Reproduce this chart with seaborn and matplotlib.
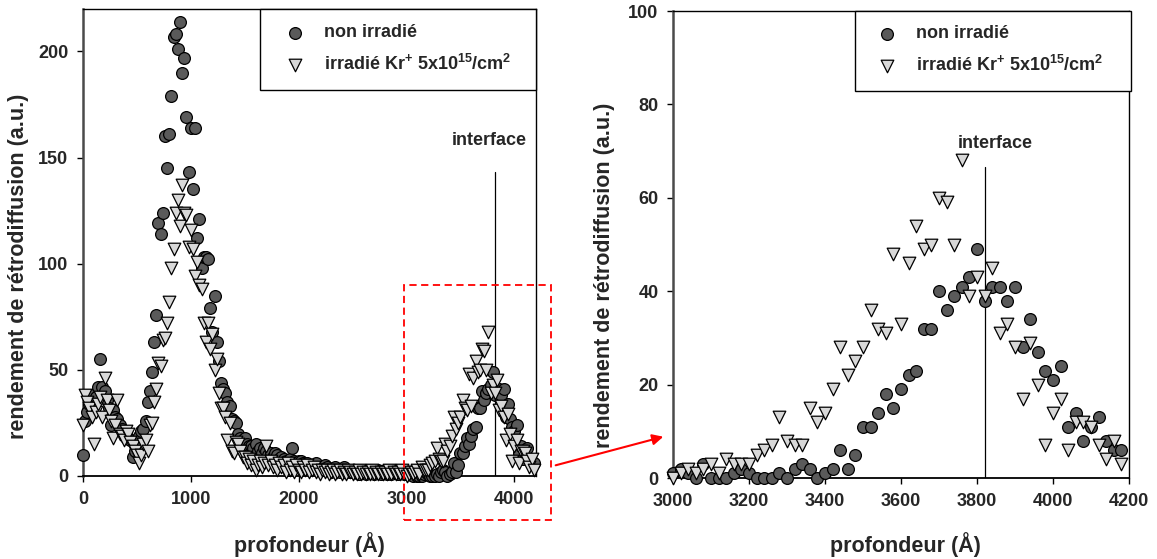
import matplotlib
import matplotlib.pyplot as plt
import pandas as pd
import seaborn as sns
from matplotlib.patches import Rectangle

matplotlib.use('agg')

# depth grid (Å)
depth = [
    0, 20, 40, 60, 80, 100, 120, 140, 160, 180,
    200, 220, 240, 260, 280, 300, 320, 340, 360, 380,
    400, 420, 440, 460, 480, 500, 520, 540, 560, 580,
    600, 620, 640, 660, 680, 700, 720, 740, 760, 780,
    800, 820, 840, 860, 880, 900, 920, 940, 960, 980,
    1000, 1020, 1040, 1060, 1080, 1100, 1120, 1140, 1160, 1180,
    1200, 1220, 1240, 1260, 1280, 1300, 1320, 1340, 1360, 1380,
    1400, 1420, 1440, 1460, 1480, 1500, 1520, 1540, 1560, 1580,
    1600, 1620, 1640, 1660, 1680, 1700, 1720, 1740, 1760, 1780,
    1800, 1820, 1840, 1860, 1880, 1900, 1920, 1940, 1960, 1980,
    2000, 2020, 2040, 2060, 2080, 2100, 2120, 2140, 2160, 2180,
    2200, 2220, 2240, 2260, 2280, 2300, 2320, 2340, 2360, 2380,
    2400, 2420, 2440, 2460, 2480, 2500, 2520, 2540, 2560, 2580,
    2600, 2620, 2640, 2660, 2680, 2700, 2720, 2740, 2760, 2780,
    2800, 2820, 2840, 2860, 2880, 2900, 2920, 2940, 2960, 2980,
    3000, 3020, 3040, 3060, 3080, 3100, 3120, 3140, 3160, 3180,
    3200, 3220, 3240, 3260, 3280, 3300, 3320, 3340, 3360, 3380,
    3400, 3420, 3440, 3460, 3480, 3500, 3520, 3540, 3560, 3580,
    3600, 3620, 3640, 3660, 3680, 3700, 3720, 3740, 3760, 3780,
    3800, 3820, 3840, 3860, 3880, 3900, 3920, 3940, 3960, 3980,
    4000, 4020, 4040, 4060, 4080, 4100, 4120, 4140, 4160, 4180,
]

# rendement, échantillon non irradié (cercles)
yield_non_irr = [
    10, 26, 30, 34, 38, 35, 37, 42, 55, 42,
    40, 36, 32, 24, 31, 28, 27, 24, 22, 20,
    20, 18, 17, 9, 12, 16, 19, 21, 22, 26,
    35, 40, 49, 63, 76, 119, 114, 124, 160, 145,
    161, 179, 207, 208, 201, 214, 190, 197, 169, 143,
    164, 135, 164, 112, 121, 98, 103, 103, 102, 79,
    68, 85, 63, 54, 44, 41, 39, 35, 33, 27,
    26, 25, 20, 18, 17, 18, 15, 14, 14, 13,
    15, 12, 13, 11, 13, 12, 10, 11, 9, 11,
    10, 8, 9, 8, 7, 3, 8, 13, 7, 6,
    7, 7, 6, 5, 6, 5, 4, 5, 6, 4,
    3, 4, 5, 4, 3, 2, 3, 4, 3, 2,
    3, 4, 2, 3, 2, 2, 3, 2, 1, 3,
    2, 1, 2, 3, 2, 1, 2, 3, 1, 2,
    3, 1, 2, 1, 3, 2, 1, 2, 3, 1,
    1, 2, 1, 0, 3, 0, 0, 0, 1, 2,
    1, 0, 0, 0, 1, 0, 2, 3, 2, 0,
    1, 2, 6, 2, 5, 11, 11, 14, 18, 15,
    19, 22, 23, 32, 32, 40, 36, 39, 41, 43,
    49, 38, 41, 41, 38, 41, 28, 34, 27, 23,
    21, 24, 11, 14, 8, 11, 13, 8, 6, 6,
]

# rendement, échantillon irradié Kr+ (triangles)
yield_irr = [
    24, 38, 35, 32, 28, 15, 30, 34, 37, 28,
    46, 36, 31, 26, 18, 24, 36, 20, 19, 17,
    21, 20, 16, 14, 12, 10, 6, 10, 15, 17,
    12, 24, 25, 35, 41, 53, 52, 64, 65, 72,
    82, 98, 107, 124, 130, 118, 137, 124, 123, 108,
    116, 107, 94, 101, 90, 88, 72, 63, 72, 60,
    67, 50, 55, 39, 32, 32, 28, 17, 25, 12,
    11, 16, 15, 12, 9, 9, 6, 8, 5, 7,
    3, 5, 7, 4, 6, 14, 5, 7, 4, 5,
    3, 6, 4, 5, 2, 6, 3, 4, 2, 5,
    3, 2, 4, 3, 5, 2, 3, 4, 2, 3,
    1, 3, 2, 3, 1, 2, 3, 1, 2, 3,
    1, 2, 1, 3, 2, 1, 2, 1, 3, 1,
    2, 1, 2, 1, 3, 1, 2, 1, 2, 1,
    2, 1, 3, 1, 2, 1, 2, 1, 3, 1,
    0, 1, 2, 1, 2, 3, 1, 4, 3, 3,
    3, 5, 6, 7, 13, 8, 7, 7, 15, 12,
    14, 19, 28, 22, 25, 28, 36, 32, 31, 48,
    33, 46, 54, 49, 50, 60, 59, 50, 68, 39,
    43, 39, 45, 31, 33, 28, 17, 29, 20, 7,
    14, 17, 6, 12, 12, 11, 7, 4, 8, 3,
]

interface_depth = 3822
label_non_irr = 'non irradié'
label_irr = 'irradié Kr$^{+}$ 5x10$^{15}$/cm$^{2}$'
x_label = 'profondeur (Å)'
y_label = 'rendement de rétrodiffusion (a.u.)'

sns.set_style('ticks')
plt.rcParams['font.family'] = ['Liberation Sans', 'DejaVu Sans']
plt.rcParams['font.weight'] = 'bold'
plt.rcParams['mathtext.fontset'] = 'custom'
plt.rcParams['mathtext.rm'] = 'Liberation Sans:bold'
plt.rcParams['mathtext.default'] = 'rm'

df = pd.DataFrame({'depth': depth, 'non': yield_non_irr, 'irr': yield_irr})


def draw_panel(ax, data, xlim, ylim, xticks, yticks, interface_top, text_pos, legend_box, legend_anchor, label_coords):
    sns.scatterplot(data=data, x='depth', y='non', ax=ax, marker='o', s=72, color='#5a5a5a',
                    edgecolor='black', linewidth=0.9, label=label_non_irr, clip_on=False, zorder=3)
    sns.scatterplot(data=data, x='depth', y='irr', ax=ax, marker='v', s=82, color='#d8d8d8',
                    edgecolor='black', linewidth=0.9, label=label_irr, clip_on=False, zorder=3)

    # interface line and label
    ax.plot([interface_depth, interface_depth], [0, interface_top], color='black', lw=0.9, zorder=2)
    ax.text(text_pos[0], text_pos[1], 'interface', ha='center', va='center', fontsize=13, fontweight='bold')

    ax.set_xlim(*xlim)
    ax.set_ylim(*ylim)
    ax.set_xticks(xticks)
    ax.set_yticks(yticks)
    ax.tick_params(direction='out', length=4.5, width=1, labelsize=13, pad=6, color='black')

    for side in ['top', 'right']:
        ax.spines[side].set_linewidth(1.0)
        ax.spines[side].set_color('black')
    ax.spines['left'].set_linewidth(1.8)
    ax.spines['left'].set_color('#4a4a4a')
    ax.spines['bottom'].set_linewidth(1.3)
    ax.spines['bottom'].set_color('black')

    ax.set_xlabel(x_label, fontsize=15.5, fontweight='bold')
    ax.set_ylabel(y_label, fontsize=15.5, fontweight='bold')
    ax.xaxis.set_label_coords(label_coords[0], label_coords[1])
    ax.yaxis.set_label_coords(label_coords[2], label_coords[3])

    # legend frame drawn by hand to get its padding
    x0, y0, x1, y1 = legend_box
    ax.add_patch(Rectangle((x0, y0), x1 - x0, y1 - y0, transform=ax.transAxes, facecolor='white',
                           edgecolor='black', lw=1.0, clip_on=False, zorder=4))
    leg = ax.legend(loc='center left', bbox_to_anchor=legend_anchor, frameon=False, fontsize=13,
                    handlelength=1.0, handletextpad=1.1, labelspacing=0.7, borderpad=0, borderaxespad=0)
    leg.set_zorder(5)


fig = plt.figure(figsize=(11.57, 5.59), dpi=100)
ax_left = fig.add_axes([0.0717, 0.1485, 0.3915, 0.8354])
ax_right = fig.add_axes([0.5817, 0.1449, 0.3941, 0.8354])

draw_panel(ax_left, df, (0, 4200), (0, 220), [0, 1000, 2000, 3000, 4000], [0, 50, 100, 150, 200],
           143, (3763, 158), (0.391, 0.827, 1.0, 1.0), (0.448, 0.914), (0.50, -0.12, -0.119, 0.45))

df_zoom = df[df['depth'] >= 3000]
draw_panel(ax_right, df_zoom, (3000, 4200), (0, 100), [3000, 3200, 3400, 3600, 3800, 4000, 4200],
           [0, 20, 40, 60, 80, 100], 66.5, (3847, 71.7), (0.399, 0.829, 1.004, 1.0), (0.45, 0.916),
           (0.51, -0.116, -0.127, 0.435))

# zoom box on the left panel and arrow towards the right panel
fig.patches.append(Rectangle((404 / 1157, 1 - 520 / 559), 147 / 1157, 235 / 559, transform=fig.transFigure,
                             fill=False, edgecolor='red', lw=1.3, linestyle=(0, (4, 2.5)), zorder=6))
fig.patches[-1].set_figure(fig)
ax_left.annotate('', xy=(666 / 1157, 1 - 436 / 559), xytext=(553 / 1157, 1 - 466 / 559),
                 xycoords='figure fraction', textcoords='figure fraction',
                 arrowprops=dict(arrowstyle='-|>', color='red', lw=1.5, mutation_scale=16))

plt.savefig('out.png', dpi=100)
